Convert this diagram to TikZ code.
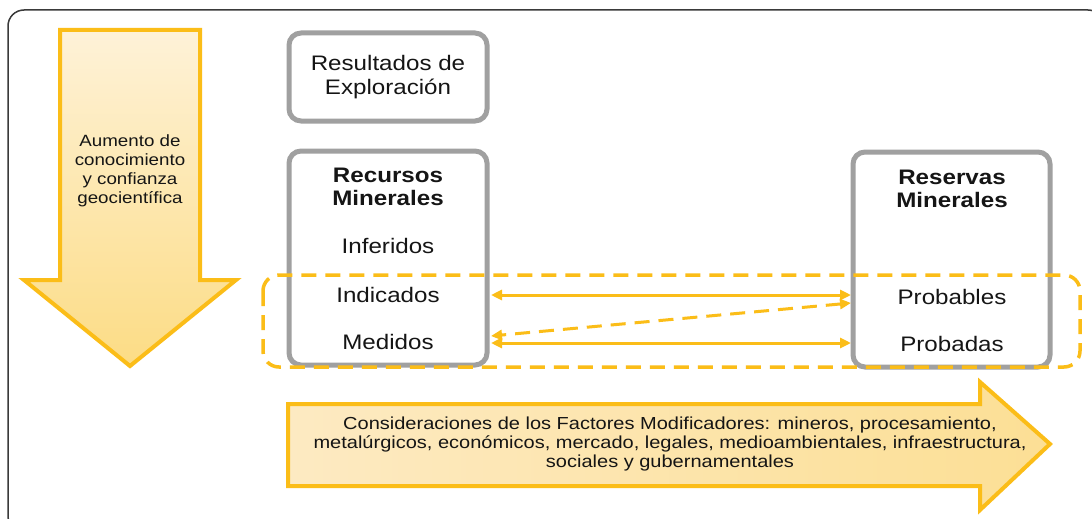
\documentclass[tikz,border=0pt]{standalone}
\usepackage{fontspec}
\setmainfont{Liberation Sans}[FakeStretch=1.15]
\usetikzlibrary{arrows.meta}
\definecolor{org}{HTML}{FBBD18}
\definecolor{gbox}{HTML}{A0A0A0}
\definecolor{frm}{HTML}{3A3A3A}
\definecolor{dtop}{HTML}{FEF2D8}
\definecolor{dbot}{HTML}{FCDC85}
\definecolor{rleft}{HTML}{FDEAC2}
\definecolor{rright}{HTML}{FCDF95}
\definecolor{txt}{HTML}{151515}
\tikzset{
  graybox/.style={draw=gbox, line width=5pt, rounded corners=12pt, fill=white},
  bigtxt/.style={font=\fontsize{21}{24}\selectfont, text=txt, align=center, inner sep=0pt},
  smalltxt/.style={font=\fontsize{16.3}{19}\selectfont, text=txt, align=center, inner sep=0pt},
  bigarrow/.style={draw=org, line width=4pt, line join=miter},
  link/.style={draw=org, line width=3pt, {Triangle[length=11pt,width=10pt]}-{Triangle[length=11pt,width=10pt]}},
  dashlink/.style={link, dash pattern=on 15pt off 9pt},
  groupbox/.style={draw=org, line width=3.5pt, dash pattern=on 15pt off 9pt, rounded corners=16pt}
}
\begin{document}
\begin{tikzpicture}[x=1pt,y=-1pt]
\useasboundingbox (0,0) rectangle (1092,519);
\begin{scope}
\clip (0,0) rectangle (1092,519);
\fill[white] (0,0) rectangle (1092,519);
\draw[frm, line width=1.5pt, rounded corners=16pt] (8,10) rectangle (1104,532);
\end{scope}
% down arrow
\shade[top color=dtop, bottom color=dbot] (60,30) -- (200,30) -- (200,280) -- (236,280) -- (130,366) -- (24,280) -- (60,280) -- cycle;
\draw[bigarrow] (60,30) -- (200,30) -- (200,280) -- (236,280) -- (130,366) -- (24,280) -- (60,280) -- cycle;
\node[smalltxt] (know) at (130,171) {Aumento de\\conocimiento\\y confianza\\geocientífica};
% right arrow
\shade[left color=rleft, right color=rright] (288,404) -- (980,404) -- (980,382) -- (1050,444) -- (980,510) -- (980,486) -- (288,486) -- cycle;
\draw[bigarrow] (288,404) -- (980,404) -- (980,382) -- (1050,444) -- (980,510) -- (980,486) -- (288,486) -- cycle;
\node[smalltxt, font=\fontsize{17.4}{19}\selectfont] (mod) at (670,444) {Consideraciones de los Factores Modificadores: mineros, procesamiento,\\metalúrgicos, económicos, mercado, legales, medioambientales, infraestructura,\\sociales y gubernamentales};
% boxes
\draw[graybox] (289,33) rectangle (487,121);
\node[bigtxt] (expl) at (388,77) {Resultados de\\Exploración};
\draw[graybox] (289,151) rectangle (487,365);
\draw[graybox] (853,152) rectangle (1050,367);
\node[bigtxt, font=\fontsize{21}{23}\selectfont\bfseries] (rec) at (388,187) {Recursos\\Minerales};
\node[bigtxt] (inf) at (388,246) {Inferidos};
\node[bigtxt] (ind) at (388,295) {Indicados};
\node[bigtxt] (med) at (388,342) {Medidos};
\node[bigtxt, font=\fontsize{21}{23}\selectfont\bfseries] (resv) at (952,189) {Reservas\\Minerales};
\node[bigtxt] (prob) at (952,297) {Probables};
\node[bigtxt] (proba) at (952,344) {Probadas};
% connection points
\coordinate (indE) at (491,295);
\coordinate (medE) at (491,343);
\coordinate (medD) at (491,336);
\coordinate (probW) at (851,295);
\coordinate (probD) at (851,303);
\coordinate (probaW) at (851,343);
\draw[link] (indE) -- (probW);
\draw[link] (medE) -- (probaW);
\draw[dashlink] (probD) -- (medD);
% group
\draw[groupbox] (263,275) rectangle (1080,367);
\end{tikzpicture}
\end{document}
